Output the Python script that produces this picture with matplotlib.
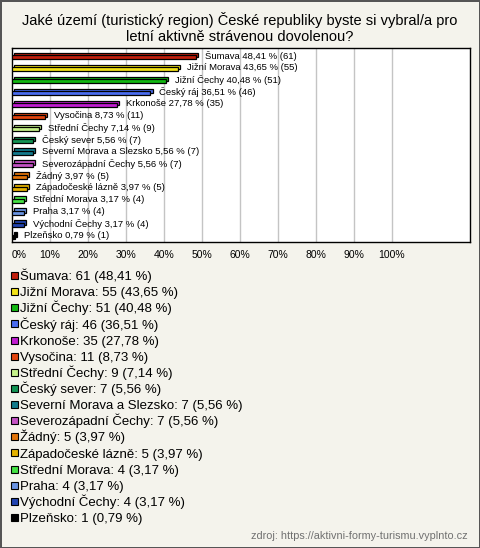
import matplotlib
matplotlib.use("Agg")
import matplotlib.pyplot as plt
import matplotlib.transforms as mtransforms
from matplotlib.patches import Rectangle

plt.rcParams['font.family'] = ['Liberation Sans', 'DejaVu Sans']

regions = ["Šumava", "Jižní Morava", "Jižní Čechy", "Český ráj", "Krkonoše",
           "Vysočina", "Střední Čechy", "Český sever", "Severní Morava a Slezsko",
           "Severozápadní Čechy", "Žádný", "Západočeské lázně", "Střední Morava",
           "Praha", "Východní Čechy", "Plzeňsko"]
counts = [61, 55, 51, 46, 35, 11, 9, 7, 7, 7, 5, 5, 4, 4, 4, 1]
percents = [48.41, 43.65, 40.48, 36.51, 27.78, 8.73, 7.14, 5.56, 5.56, 5.56,
            3.97, 3.97, 3.17, 3.17, 3.17, 0.79]
colors = ["#c01e0c", "#f2e218", "#12b812", "#4a6cf0", "#c01cd0", "#e2440e",
          "#c6f28a", "#129454", "#127a8c", "#c452c4", "#e2740a", "#e4b200",
          "#44e244", "#6a94e2", "#2244b0", "#000000"]
ticks = list(range(0, 101, 10))

W, H = 480, 548
fig = plt.figure(figsize=(W / 100, H / 100), dpi=100)
fig.patch.set_facecolor("#f4f3ec")
fig.patch.set_edgecolor("#555555")
fig.patch.set_linewidth(2)

ax_l, ax_r, ax_t, ax_b = 11.5, 470, 48, 242
ax = fig.add_axes([ax_l / W, 1 - ax_b / H, (ax_r - ax_l) / W, (ax_b - ax_t) / H])
ax.set_facecolor("white")
ax.set_xlim(0, 120.5)
ax.set_ylim(15.42, -0.75)
for s in ax.spines.values():
    s.set_linewidth(1)
    s.set_color("black")
ax.set_yticks([])
ax.set_xticks(ticks)
ax.set_xticklabels([f"{t}%" for t in ticks], fontsize=7.5)
ax.get_xticklabels()[0].set_ha('left')
ax.tick_params(axis='x', length=0, pad=6)
for t in ticks[1:]:
    ax.axvline(t, color="#c4c4c4", lw=1, zorder=0)

pos = list(range(len(regions)))
h = 0.38
back = mtransforms.offset_copy(ax.transData, fig=fig, x=2.2, y=2.2, units='dots')
bb = ax.barh(pos, percents, height=h, color=colors, edgecolor="black", lw=0.9, zorder=2)
for p in bb.patches:
    p.set_transform(back)
ax.barh(pos, percents, height=h, color=colors, edgecolor="black", lw=0.9, zorder=3)

lab_tr = mtransforms.offset_copy(ax.transData, fig=fig, x=9, y=1, units='dots')
for i, (r, c, p) in enumerate(zip(regions, counts, percents)):
    txt = f"{r} {p:.2f} % ({c})".replace(".", ",")
    ax.text(p, i, txt, transform=lab_tr, fontsize=6.8, va='center', ha='left', zorder=4)

fig.text(0.5, 1 - 28 / H,
         "Jaké území (turistický region) České republiky byste si vybral/a pro\n"
         "letní aktivně strávenou dovolenou?",
         ha='center', va='center', fontsize=10.5, linespacing=1.1)

y0, dy = 275.5, 16.13
for i, (r, c, p, col) in enumerate(zip(regions, counts, percents, colors)):
    y = y0 + i * dy
    fig.patches.append(Rectangle((10.5 / W, 1 - (y + 3.5) / H), 7 / W, 7 / H,
                                 transform=fig.transFigure, facecolor=col,
                                 edgecolor="black", lw=0.8))
    txt = f"{r}: {c} ({p:.2f} %)".replace(".", ",")
    fig.text(19.5 / W, 1 - (y + 4.7) / H, txt, fontsize=9.5, va='baseline', ha='left')

fig.text(468 / W, 1 - 536 / H, "zdroj: https://aktivni-formy-turismu.vyplnto.cz",
         fontsize=7.8, color="#707070", ha='right', va='center')

fig.savefig("out.png", dpi=100, facecolor=fig.get_facecolor(), edgecolor=fig.get_edgecolor())
